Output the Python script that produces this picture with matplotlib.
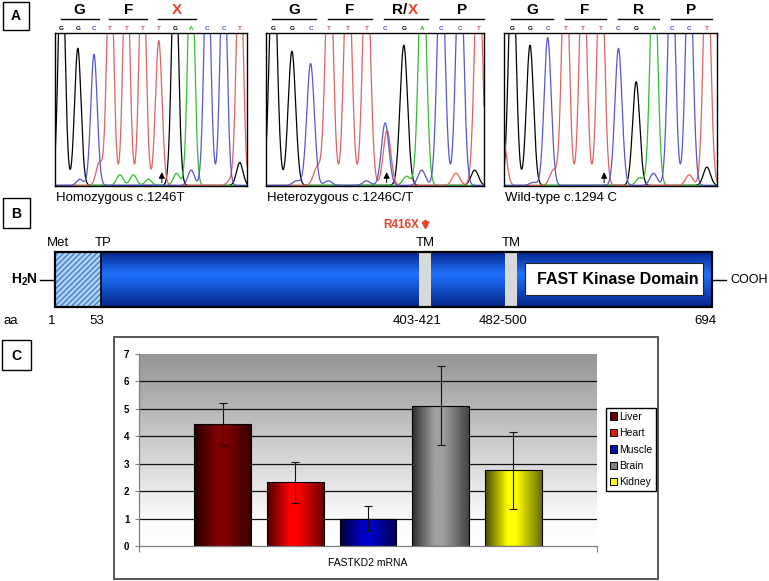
import numpy as np
import matplotlib
matplotlib.use('Agg')
import matplotlib.pyplot as plt
from matplotlib.patches import Rectangle
from matplotlib.colors import to_rgb, LinearSegmentedColormap

plt.rcParams['font.family'] = ['Liberation Sans', 'DejaVu Sans']
plt.rcParams['mathtext.fontset'] = 'custom'
plt.rcParams['mathtext.bf'] = 'Liberation Sans:bold'
plt.rcParams['mathtext.rm'] = 'Liberation Sans'
plt.rcParams['hatch.color'] = '#3f7fd0'

W, H = 769, 581

# ---------------- Panel A data (chromatograms) ----------------
hom_bases = "GGCTTTTGACCT"
hom_heights = [1.6, 0.90, 0.86, 1.6, 1.6, 1.6, 0.95, 1.6, 1.6, 1.6, 1.6, 1.6]
hom_minor_pos = [1.13, 2.33, 3.6, 4.43, 5.36, 7.1, 8.0, 10.4, 11.0]
hom_minor_h = [0.04, 0.15, 0.07, 0.07, 0.04, 0.08, 0.10, 0.03, 0.15]
hom_minor_base = "CTAAAACTG"
hom_aa = ["G", "F", "X"]
hom_caption = "Homozygous c.1246T"
hom_arrow = 6.19

het_bases = "GGCTTTCGACCT"
het_heights = [1.6, 0.88, 0.80, 1.6, 1.6, 1.6, 0.41, 0.92, 1.6, 1.6, 1.6, 1.6]
het_minor_pos = [1.25, 2.36, 2.95, 5.0, 6.1, 7.15, 7.96, 9.8, 10.8]
het_minor_h = [0.03, 0.12, 0.03, 0.03, 0.36, 0.06, 0.10, 0.08, 0.10]
het_minor_base = "CTCCTACTG"
het_aa = ["G", "F", "R/X", "P"]
het_caption = "Heterozygous c.1246C/T"
het_arrow = 6.08

wt_bases = "GGCTTTCGACCT"
wt_heights = [1.6, 0.92, 0.97, 1.6, 1.6, 1.6, 0.90, 0.68, 1.6, 1.6, 1.6, 1.6]
wt_minor_pos = [-0.55, 1.19, 2.32, 7.2, 7.98, 10.0, 11.0]
wt_minor_h = [0.35, 0.02, 0.10, 0.05, 0.08, 0.07, 0.12]
wt_minor_base = "TCTACTG"
wt_aa = ["G", "F", "R", "P"]
wt_caption = "Wild-type c.1294 C"
wt_arrow = 5.19

# ---------------- Panel B data (protein map) ----------------
aa_labels = ["1", "53", "403-421", "482-500", "694"]
domain_labels = ["Met", "TP", "TM", "TM"]
mutation_label = "R416X"
kinase_label = "FAST Kinase Domain"

# ---------------- Panel C data (bar chart) ----------------
tissues = ["Liver", "Heart", "Muscle", "Brain", "Kidney"]
mrna_values = [4.45, 2.33, 1.00, 5.12, 2.76]
mrna_errors = [0.76, 0.75, 0.46, 1.45, 1.41]
category_label = "FASTKD2 mRNA"
y_ticks = [0, 1, 2, 3, 4, 5, 6, 7]

trace_colors = {'G': '#000000', 'A': '#2fbf2f', 'T': '#e5605f', 'C': '#5555d5'}
label_colors = {'G': '#000000', 'A': '#22b022', 'T': '#e04545', 'C': '#4a4ad0'}

fig = plt.figure(figsize=(W / 100, H / 100), dpi=100)


def ax_px(l, t, r, b, **kw):
    return fig.add_axes([l / W, 1 - b / H, (r - l) / W, (b - t) / H], **kw)


ov = ax_px(0, 0, W, H)
ov.set_xlim(0, W)
ov.set_ylim(H, 0)
ov.axis('off')


def label_box(l, t, r, b, letter):
    ov.add_patch(Rectangle((l, t), r - l, b - t, fill=False, ec='black', lw=1.0))
    ov.text((l + r) / 2, (t + b) / 2 + 0.5, letter, ha='center', va='center',
            fontsize=10, fontweight='bold')


label_box(3, 2, 29, 30, "A")
label_box(3, 198, 30, 228, "B")
label_box(2, 340, 31, 370, "C")

SIG = 0.2


def chromatogram(box, bases, heights, mpos, mh, mbase, xlim, aa, caption, arrow_x):
    l, t, r, b = box
    ax = ax_px(l, t, r, b)
    x = np.linspace(xlim[0], xlim[1], 1500)
    for base in "GATC":
        y = np.zeros_like(x)
        for i, (bb, hh) in enumerate(zip(bases, heights)):
            if bb == base:
                y += hh * np.exp(-(x - i) ** 2 / (2 * SIG ** 2))
        for p, hh, bb in zip(mpos, mh, mbase):
            if bb == base:
                y += hh * np.exp(-(x - p) ** 2 / (2 * SIG ** 2))
        ax.plot(x, y, color=trace_colors[base], lw=0.9)
    ax.set_xlim(*xlim)
    ax.set_ylim(-0.004, 1.0)
    ax.set_xticks([])
    ax.set_yticks([])
    for s in ax.spines.values():
        s.set_linewidth(1.0)
    tr = ax.get_xaxis_transform()
    for i, bb in enumerate(bases):
        ax.text(i, 1.027, bb, transform=tr, ha='center', va='center', fontsize=4.5,
                fontweight='bold', color=label_colors[bb], clip_on=False)
    for k, a in enumerate(aa):
        s0, s1 = 3 * k - 0.05, 3 * k + 2 + 0.28
        ax.plot([s0, s1], [1.092, 1.092], transform=tr, color='black', lw=1.0, clip_on=False)
        c = (s0 + s1) / 2
        if "/" in a:
            left, right = a.split("/")
            ax.text(c + 0.08, 1.148, left + "/", transform=tr, ha='right', va='center',
                    fontsize=11, fontweight='bold', clip_on=False)
            ax.text(c + 0.08, 1.148, right, transform=tr, ha='left', va='center',
                    fontsize=11, fontweight='bold', color='#e8402a', clip_on=False)
        else:
            col = '#e8402a' if a == "X" else 'black'
            ax.text(c, 1.148, a, transform=tr, ha='center', va='center', fontsize=11,
                    fontweight='bold', color=col, clip_on=False)
    ax.annotate('', xy=(arrow_x, 0.105), xytext=(arrow_x, 0.0),
                arrowprops=dict(arrowstyle='-|>', color='black', lw=0.7, mutation_scale=9))
    ov.text(l + 1, 198, caption, ha='left', va='center', fontsize=9.5)
    return ax


chromatogram((55, 33, 247, 186), hom_bases, hom_heights, hom_minor_pos, hom_minor_h,
             hom_minor_base, (-0.41, 11.45), hom_aa, hom_caption, hom_arrow)
chromatogram((266, 33, 484, 186), het_bases, het_heights, het_minor_pos, het_minor_h,
             het_minor_base, (-0.39, 11.3), het_aa, het_caption, het_arrow)
chromatogram((504, 33, 717, 186), wt_bases, wt_heights, wt_minor_pos, wt_minor_h,
             wt_minor_base, (-0.47, 11.57), wt_aa, wt_caption, wt_arrow)

# ---------------- Panel B drawing ----------------
bl, bt, br, bb_ = 55, 252, 712, 307
cm_blue = LinearSegmentedColormap.from_list(
    'pb', [(0, '#06258a'), (0.4, '#1f72ff'), (1.0, '#06258a')])
grad = np.linspace(0, 1, 200)[:, None]
ov.imshow(grad, cmap=cm_blue, extent=(bl, br, bb_, bt), aspect='auto', zorder=1,
          interpolation='bilinear')
ov.set_xlim(0, W)
ov.set_ylim(H, 0)
# hatched transit peptide
ov.add_patch(Rectangle((bl, bt), 101 - bl, bb_ - bt, fc='#b3d4f5', ec='#3f7fd0',
                       hatch='//////', lw=0, zorder=2))
ov.plot([101, 101], [bt, bb_], color='black', lw=1.2, zorder=3)
# TM segments
for (x0, x1) in [(419, 431), (505, 517)]:
    ov.add_patch(Rectangle((x0, bt + 1), x1 - x0, bb_ - bt - 2, fc='#d9d9d9', ec='none', zorder=3))
# kinase domain box
ov.add_patch(Rectangle((525, 263), 703 - 525, 295 - 263, fc='white', ec='#222222', lw=0.8, zorder=3))
ov.text(618, 280, kinase_label, ha='center', va='center', fontsize=11.5, fontweight='bold', zorder=4)
ov.add_patch(Rectangle((bl, bt), br - bl, bb_ - bt, fill=False, ec='black', lw=1.6, zorder=5))
# ends
ov.plot([40, bl], [280, 280], color='black', lw=1.0)
ov.text(38, 280, r'$\mathbf{H_2N}$', ha='right', va='center', fontsize=10)
ov.plot([br, 726], [280, 280], color='black', lw=1.0)
ov.text(730, 280, "COOH", ha='left', va='center', fontsize=9)
# domain labels
for lab, xx in zip(domain_labels, [58, 103, 425, 511]):
    ov.text(xx, 243, lab, ha='center', va='center', fontsize=9.5)
ov.text(419, 225, mutation_label, ha='right', va='center', fontsize=8.5,
        fontweight='bold', color='#e8402a')
ov.annotate('', xy=(425.5, 233), xytext=(425.5, 218),
            arrowprops=dict(arrowstyle='-|>', color='#e8402a', lw=1.8, mutation_scale=9))
# aa numbering
ov.text(3, 321, "aa", ha='left', va='center', fontsize=9.5)
for lab, xx in zip(aa_labels, [52, 97, 417, 503, 705]):
    ov.text(xx, 321, lab, ha='center', va='center', fontsize=9.5)

# ---------------- Panel C drawing ----------------
ov.add_patch(Rectangle((114, 337), 658 - 114, 579 - 337, fill=False, ec='#555555', lw=1.4))
ax = ax_px(139, 354, 597, 546)
xpos = np.arange(len(tissues))
xl = (-1.15, len(tissues) - 1 + 1.15)
ax.set_xlim(*xl)
ax.set_ylim(y_ticks[0], y_ticks[-1])
bg = LinearSegmentedColormap.from_list('bg', [(0, '#ffffff'), (0.15, '#fafafa'), (1, '#959595')])
ax.imshow(np.linspace(0, 1, 256)[:, None], cmap=bg, origin='lower', aspect='auto',
          extent=(xl[0], xl[1], y_ticks[0], y_ticks[-1]), zorder=0, interpolation='bilinear')
for yv in y_ticks[1:-1]:
    ax.axhline(yv, color='#111111', lw=0.9, zorder=1)

bar_colors = ['#800000', '#ff0000', '#0000c8', '#a0a0a0', '#ffff00']
legend_colors = ['#6a0000', '#ee1111', '#0010b0', '#808080', '#ffff00']
bars = ax.bar(xpos, mrna_values, width=0.78, color=bar_colors, edgecolor='none', zorder=2)
prof_t = np.linspace(0, 1, 200)
prof = np.interp(prof_t, [0, 0.4, 0.55, 1.0], [0.28, 1.0, 1.0, 0.42])
for bar, col in zip(bars, bar_colors):
    rgb = np.array(to_rgb(col))
    img = (prof[:, None] * rgb[None, :])[None, :, :]
    im = ax.imshow(img, extent=(bar.get_x(), bar.get_x() + bar.get_width(), 0, bar.get_height()),
                   aspect='auto', zorder=2.5, interpolation='bilinear')
    im.set_clip_path(bar)
ax.bar(xpos, mrna_values, width=0.78, fill=False, edgecolor='black', lw=0.8, zorder=3)
ax.errorbar(xpos, mrna_values, yerr=mrna_errors, fmt='none', ecolor='#111111',
            elinewidth=0.8, capsize=3, capthick=0.8, zorder=4)
ax.set_xlim(*xl)
ax.set_ylim(y_ticks[0], y_ticks[-1])
ax.set_yticks(y_ticks)
ax.set_yticklabels([str(v) for v in y_ticks], fontsize=7, fontweight='bold')
ax.tick_params(axis='y', length=3, color='#808080', width=0.8, pad=4)
ax.set_xticks([(xl[0] + xl[1]) / 2])
ax.set_xticklabels([category_label], fontsize=7.5)
ax.tick_params(axis='x', length=0, pad=9)
ax.set_xticks([xl[0], xl[1]], minor=True)
ax.tick_params(axis='x', which='minor', length=4, color='#808080', width=0.8)
for s in ['top', 'right']:
    ax.spines[s].set_visible(False)
for s in ['left', 'bottom']:
    ax.spines[s].set_color('#808080')
    ax.spines[s].set_linewidth(0.9)

handles = [Rectangle((0, 0), 1, 1, fc=c, ec='black', lw=0.7) for c in legend_colors]
leg = ax.legend(handles, tissues, loc='upper left', bbox_to_anchor=(606 / W, 1 - 408 / H),
                bbox_transform=fig.transFigure, borderaxespad=0, fontsize=7.5,
                handlelength=0.7, handleheight=0.7, handletextpad=0.25, labelspacing=0.62,
                borderpad=0.35, fancybox=False, framealpha=1, edgecolor='black')
leg.get_frame().set_linewidth(1.0)

fig.savefig('out.png', dpi=100)
